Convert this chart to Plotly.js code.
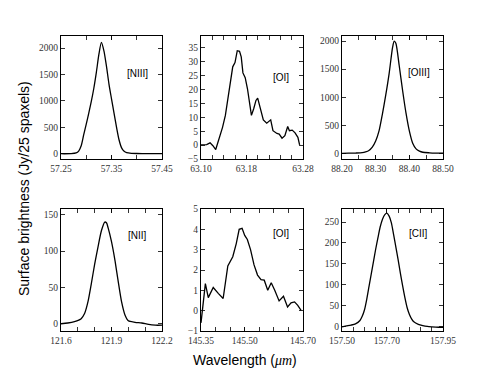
<!DOCTYPE html>
<html>
<head>
<meta charset="utf-8">
<script src="https://cdn.plot.ly/plotly-3.0.1.min.js"></script>
<style>html,body{margin:0;padding:0;background:#fff;}#chart{width:491px;height:368px;}</style>
</head>
<body>
<div id="chart"></div>
<script>
// ---- Data ----
const lineLabels = ["[NIII]", "[OI]", "[OIII]", "[NII]", "[OI]", "[CII]"];

const nIII_x = [57.25,57.27,57.28,57.285,57.29,57.295,57.30,57.305,57.31,57.315,57.32,57.325,57.33,57.335,57.34,57.345,57.35,57.355,57.36,57.365,57.37,57.375,57.38,57.39,57.40,57.42,57.45];
const nIII_y = [0,2,15,50,150,360,560,770,990,1240,1540,1880,2110,1950,1660,1320,1040,770,500,260,110,45,20,8,4,0,0];

const oI63_x = [63.100,63.110,63.116,63.121,63.126,63.129,63.134,63.138,63.143,63.148,63.153,63.156,63.160,63.164,63.168,63.171,63.174,63.178,63.182,63.186,63.189,63.193,63.197,63.200,63.204,63.210,63.216,63.220,63.223,63.227,63.234,63.238,63.243,63.248,63.253,63.256,63.261,63.266,63.271,63.274];
const oI63_y = [0.1,0.2,0.8,-0.2,-1.6,0.4,3.4,6.4,10.7,17.3,22.8,28.2,29.7,34.0,33.8,31.8,26.0,24.3,20.3,15.1,10.7,13.1,16.1,16.9,13.9,9.1,7.9,8.5,9.1,5.2,4.2,4.0,2.5,3.4,6.7,5.2,5.4,4.4,2.8,0.1];

const oIII_x = [88.20,88.22,88.24,88.26,88.27,88.28,88.29,88.30,88.31,88.32,88.33,88.34,88.35,88.355,88.36,88.37,88.38,88.39,88.40,88.41,88.42,88.43,88.44,88.46,88.48,88.50];
const oIII_y = [0,3,6,12,25,50,110,220,400,700,1040,1420,1880,2000,1960,1560,1120,720,400,180,80,40,20,10,5,3];

const nII_x = [121.60,121.64,121.68,121.72,121.74,121.76,121.78,121.80,121.82,121.84,121.86,121.87,121.88,121.90,121.92,121.94,121.96,121.98,122.00,122.04,122.08,122.12,122.16,122.20];
const nII_y = [0,1,3,7,14,30,55,82,106,128,140,139,132,113,88,58,30,12,4,2,1,-1,-2,-2];

const oI145_x = [145.350,145.365,145.375,145.392,145.410,145.426,145.442,145.450,145.459,145.471,145.481,145.491,145.500,145.509,145.520,145.532,145.544,145.556,145.567,145.579,145.591,145.603,145.618,145.633,145.647,145.659,145.671,145.682,145.694];
const oI145_y = [-0.6,1.33,0.64,1.14,0.84,0.6,2.2,2.45,2.65,3.3,4.0,4.05,3.7,3.5,3.0,2.25,1.75,1.53,1.5,1.0,1.37,1.0,0.48,0.71,0.18,0.38,0.43,0.26,0.0];

const cII_x = [157.50,157.52,157.54,157.56,157.58,157.59,157.60,157.61,157.62,157.63,157.64,157.65,157.66,157.67,157.68,157.69,157.70,157.71,157.72,157.73,157.74,157.75,157.76,157.77,157.78,157.79,157.80,157.81,157.82,157.84,157.86,157.88,157.90,157.93,157.95];
const cII_y = [0,2,4,7,15,25,40,65,95,125,155,185,212,238,256,267,271,264,248,220,190,160,128,98,70,46,30,19,12,6,3,1,0,-1,-1];

// Tick labels
const xTicks = [[57.25,57.35,57.45],[63.10,63.18,63.28],[88.20,88.30,88.40,88.50],[121.6,121.9,122.2],[145.35,145.50,145.70],[157.50,157.70,157.95]];
const yTicks = [[0,500,1000,1500,2000],[-5,0,5,10,15,20,25,30,35],[0,500,1000,1500,2000],[0,50,100,150],[-1,0,1,2,3,4,5],[0,50,100,150,200,250]];

const xRanges = [[57.25,57.45],[63.10,63.28],[88.20,88.50],[121.6,122.2],[145.35,145.70],[157.50,157.95]];
const yRanges = [[-100,2230],[-5,39.3],[-100,2090],[-10,158],[-1,5],[-10,281]];
const xMinor = [[57.25,0.05],[63.10,0.02],[88.20,0.05],[121.6,0.1],[145.35,0.05],[157.50,0.05]];
const xFormat = [".2f",".2f",".2f",".1f",".2f",".2f"];
const smooth = [true,false,true,true,false,true];

const series = [[nIII_x,nIII_y],[oI63_x,oI63_y],[oIII_x,oIII_y],[nII_x,nII_y],[oI145_x,oI145_y],[cII_x,cII_y]];

// ---- Layout geometry ----
const W = 491, H = 368;
const colPx = [[61,162],[201,303],[342,443]];
const rowPx = [[36,159],[209,331]];
const labelPos = [[137,73],[281,78],[419,72],[137,235],[281,233],[418,233]];

const traces = [];
const layout = {
  width: W, height: H,
  margin: {l:0, r:0, t:0, b:0},
  paper_bgcolor: "#fff", plot_bgcolor: "#fff",
  showlegend: false,
  annotations: []
};

const tickFont = {family: "'Liberation Serif', 'Times New Roman', serif", size: 9.5, color: "#333"};
const sansFont = "'Liberation Sans', Arial, sans-serif";

for (let i = 0; i < 6; i++) {
  const r = Math.floor(i / 3), c = i % 3;
  const xa = i === 0 ? "xaxis" : "xaxis" + (i + 1);
  const ya = i === 0 ? "yaxis" : "yaxis" + (i + 1);
  const xr = i === 0 ? "x" : "x" + (i + 1);
  const yr = i === 0 ? "y" : "y" + (i + 1);
  traces.push({
    x: series[i][0], y: series[i][1], xaxis: xr, yaxis: yr,
    type: "scatter", mode: "lines",
    line: smooth[i] ? {color: "#000", width: 1.3, shape: "spline", smoothing: 0.7} : {color: "#000", width: 1.3},
    hoverinfo: "skip"
  });
  layout[xa] = {
    domain: [colPx[c][0] / W, colPx[c][1] / W],
    anchor: yr, range: xRanges[i],
    tickvals: xTicks[i], tickformat: xFormat[i],
    ticks: "inside", ticklen: 4, tickcolor: "#000", tickwidth: 0.8,
    minor: {tick0: xMinor[i][0], dtick: xMinor[i][1], ticks: "inside", ticklen: 4, tickcolor: "#000", tickwidth: 0.8, showgrid: false},
    showline: true, linecolor: "#000", linewidth: 1.2, mirror: "allticks",
    showgrid: false, zeroline: false, tickfont: tickFont, fixedrange: true
  };
  layout[ya] = {
    domain: [1 - rowPx[r][1] / H, 1 - rowPx[r][0] / H],
    anchor: xr, range: yRanges[i],
    tickvals: yTicks[i],
    ticks: "inside", ticklen: 4, tickcolor: "#000", tickwidth: 0.8,
    showline: true, linecolor: "#000", linewidth: 1.2, mirror: "allticks",
    showgrid: false, zeroline: false, tickfont: tickFont, fixedrange: true
  };
  layout.annotations.push({
    text: lineLabels[i], xref: "paper", yref: "paper",
    x: labelPos[i][0] / W, y: 1 - labelPos[i][1] / H,
    xanchor: "center", yanchor: "middle", showarrow: false,
    font: {family: sansFont, size: 10, color: "#000"}
  });
}

layout.annotations.push({
  text: "Surface brightness (Jy/25 spaxels)", xref: "paper", yref: "paper",
  x: 24 / W, y: 1 - 189 / H, xanchor: "center", yanchor: "middle",
  textangle: -90, showarrow: false,
  font: {family: sansFont, size: 14, color: "#000"}
});
layout.annotations.push({
  text: 'Wavelength (<span style="font-family:\'Liberation Serif\',serif;font-style:italic">μm</span>)',
  xref: "paper", yref: "paper",
  x: 245 / W, y: 1 - 360 / H, xanchor: "center", yanchor: "middle",
  showarrow: false,
  font: {family: sansFont, size: 14, color: "#000"}
});

Plotly.newPlot("chart", traces, layout, {staticPlot: true, displayModeBar: false});
</script>
</body>
</html>
